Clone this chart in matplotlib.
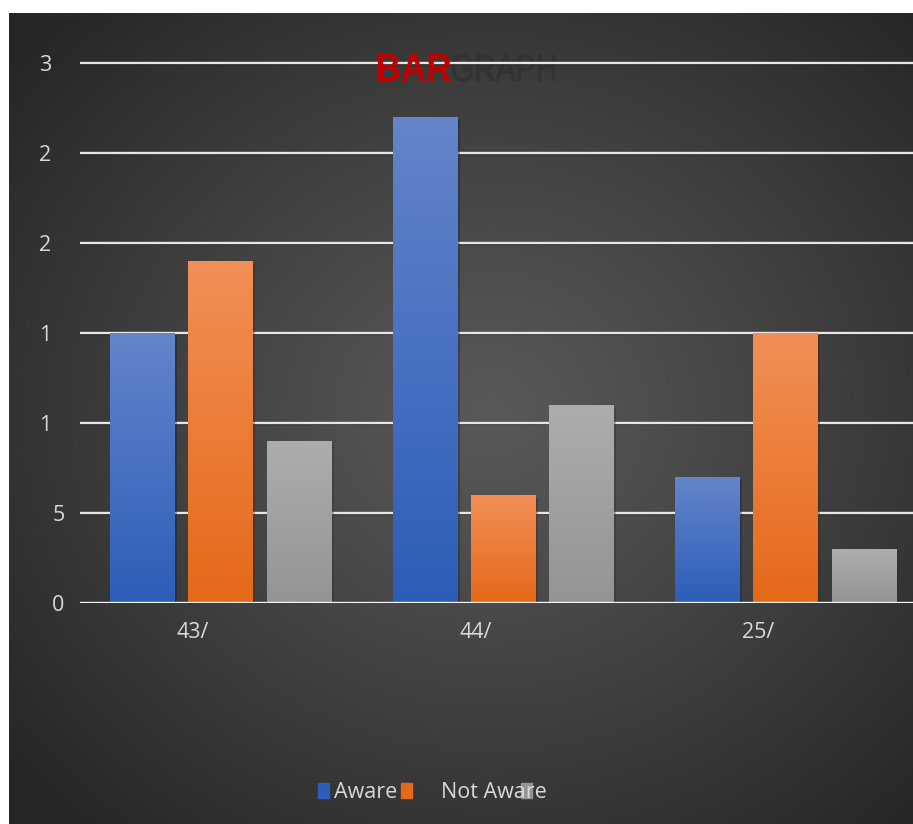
import numpy as np
import matplotlib
matplotlib.use("Agg")
import matplotlib.pyplot as plt
from matplotlib.colors import LinearSegmentedColormap, to_rgb
from matplotlib.patches import Rectangle, PathPatch
from matplotlib.textpath import TextPath
from matplotlib.font_manager import FontProperties
from matplotlib.transforms import ScaledTranslation, Affine2D
import matplotlib.patheffects as pe

plt.rcParams['font.family'] = ['Open Sans', 'DejaVu Sans']

# data
categories = ["43/", "44/", "25/"]
series_names = ["Aware", "Not Aware", ""]
aware = [1.5, 2.7, 0.7]
not_aware = [1.9, 0.6, 1.5]
other = [0.9, 1.1, 0.3]
ytick_vals = [0, 0.5, 1, 1.5, 2, 2.5, 3]
ytick_labels = ["0", "5", "1", "1", "2", "2", "3"]

# colours: (top, bottom) of each bar gradient
grads = [("#6385ca", "#2d5db8"), ("#f28f57", "#e56918"), ("#adadad", "#949494")]

W, H = 913, 824
fig = plt.figure(figsize=(W / 100, H / 100), dpi=100)
fig.patch.set_facecolor("white")

# dark radial background
bg = fig.add_axes([9 / W, 0, (W - 9) / W, (H - 13) / H])
bg.axis("off")
yy, xx = np.mgrid[0:811, 0:904]
r = np.sqrt(((xx - 480) / 620.0) ** 2 + ((yy - 400) / 560.0) ** 2)
t = np.clip(r, 0, 1) ** 1.1
c0 = np.array(to_rgb("#595959"))
c1 = np.array(to_rgb("#262626"))
img = c0[None, None, :] * (1 - t[..., None]) + c1[None, None, :] * t[..., None]
bg.imshow(img, aspect="auto", extent=[0, 1, 0, 1])
bg.set_xlim(0, 1)
bg.set_ylim(0, 1)

ax = fig.add_axes([80 / W, (H - 603) / H, (W - 80) / W, 549 / H])
ax.set_zorder(1)
ax.patch.set_alpha(0)
for s in ax.spines.values():
    s.set_visible(False)

# grid lines
for yv in ytick_vals[1:]:
    ax.axhline(yv, color="#e6e6e6", lw=1.7, zorder=1,
               path_effects=[pe.SimpleLineShadow(offset=(0, -1), alpha=0.4), pe.Normal()])
ax.axhline(0, color="#f4f4f4", lw=2.4, zorder=5)

x = np.arange(len(categories))
width = 0.227
offsets = [-0.277, 0, 0.277]
grad = np.linspace(1, 0, 256).reshape(-1, 1)
for vals, (ctop, cbot), off in zip([aware, not_aware, other], grads, offsets):
    bars = ax.bar(x + off, vals, width, color=cbot, zorder=3, linewidth=0,
                  path_effects=[pe.SimplePatchShadow(offset=(2, -2), alpha=0.35),
                                pe.Normal()])
    cmap = LinearSegmentedColormap.from_list("g", [cbot, ctop])
    for b in bars:
        im = ax.imshow(grad, cmap=cmap, aspect="auto", zorder=3.5,
                       extent=[b.get_x(), b.get_x() + b.get_width(), 0, b.get_height()])
        im.set_clip_path(b)

ax.set_xlim(-0.497, 2.451)
ax.set_ylim(0, 3.05)

ax.set_yticks(ytick_vals)
ax.set_yticklabels(ytick_labels)
ax.set_xticks(x)
ax.set_xticklabels(categories)
ax.tick_params(length=0, colors="#d9d9d9", labelsize=15.5)
ax.tick_params(axis="y", pad=11)
ax.tick_params(axis="x", pad=14)
for lab, txt in zip(ax.get_yticklabels(), ytick_labels):
    if txt not in ("0", "5"):
        lab.set_transform(lab.get_transform() + ScaledTranslation(-10 / 72, 0, fig.dpi_scale_trans))
for lab in ax.get_xticklabels():
    lab.set_transform(lab.get_transform() + ScaledTranslation(-20 / 72, 0, fig.dpi_scale_trans))


def word(text, x0, x1, base, cap, weight, **kw):
    # text outline squeezed into a box given in pixels
    tp = TextPath((0, 0), text, size=1,
                  prop=FontProperties(family="Liberation Sans", weight=weight))
    ext = tp.get_extents()
    tr = (Affine2D().translate(-ext.x0, 0)
          .scale((x1 - x0) / ext.width, cap / ext.height)
          .translate(x0, H - base)
          .scale(1 / W, 1 / H)) + fig.transFigure
    p = PathPatch(tp, transform=tr, **kw)
    fig.add_artist(p)
    return p


# title
for dx, dy in [(-1, 0), (1, 0), (0, -1), (0, 1)]:
    word("GRAPH", 452 + dx, 555 + dx, 81 + dy, 27, "normal", facecolor="#303030",
         edgecolor="none", alpha=0.25, zorder=0.5)
word("GRAPH", 452, 555, 81, 27, "normal", facecolor="#333333", edgecolor="none",
     alpha=0.8, zorder=0.5)
word("BAR", 378, 451, 81, 27, "bold", facecolor="#c00000", edgecolor="none", zorder=10)

# legend
leg_y = 1 - 798 / H
for xs, (ctop, cbot) in zip([318, 401, 521], grads):
    fig.patches.append(Rectangle((xs / W, leg_y), 11 / W, 15 / H, transform=fig.transFigure,
                                 color=cbot, zorder=4))
fig.text(334 / W, leg_y, series_names[0], fontsize=15.5, color="#d9d9d9", va="baseline", zorder=5)
fig.text(441 / W, leg_y, series_names[1], fontsize=15.5, color="#d9d9d9", va="baseline", zorder=5)

fig.savefig("out.png", dpi=100)
